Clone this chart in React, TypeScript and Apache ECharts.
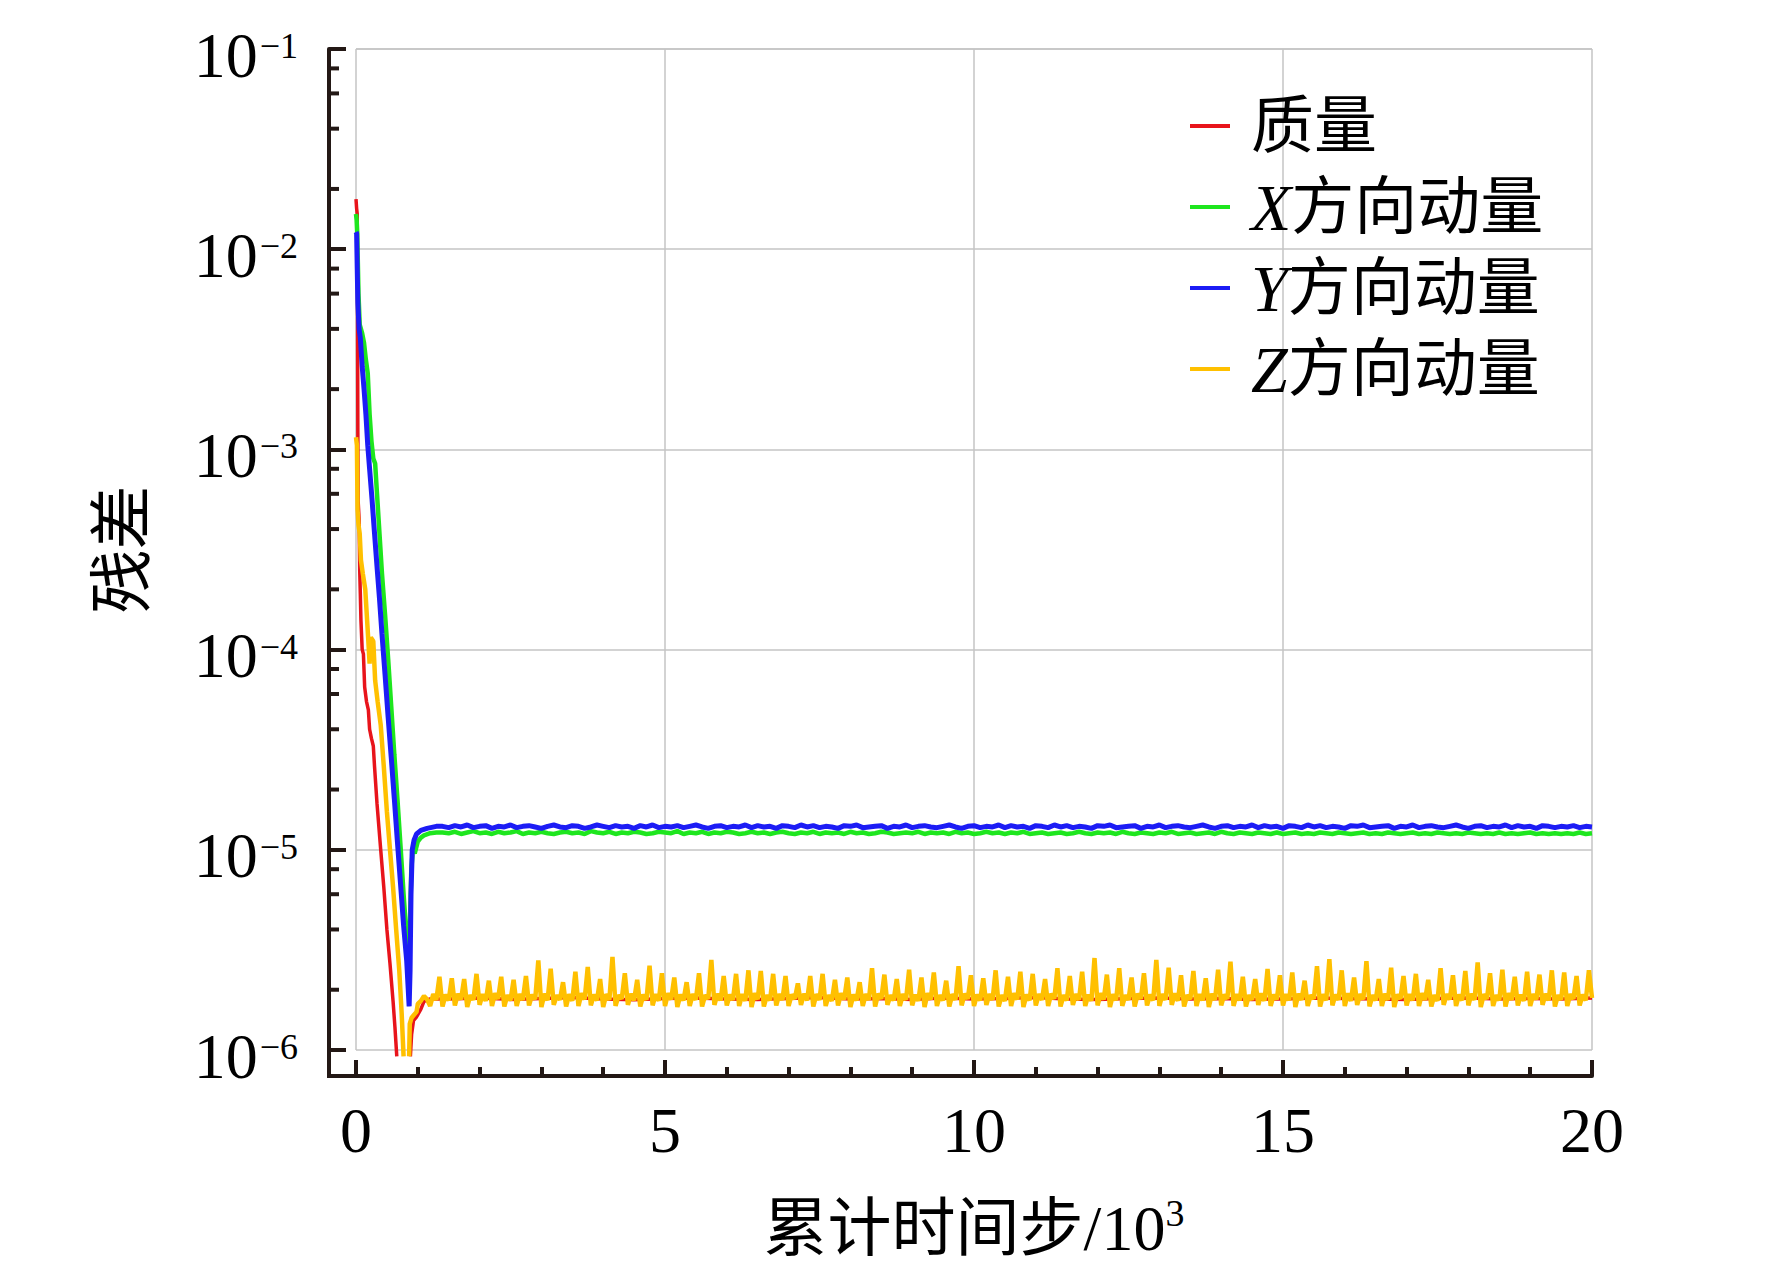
import React, { useEffect, useRef } from "react";
import * as echarts from "echarts";

const W = 1772;
const H = 1273;
const GRID = { left: 356, right: 180, top: 49, bottom: 223 };
const Y_AXIS_OFFSET = 27;
const X_AXIS_OFFSET = 26;
const AXIS_COLOR = "#231815";
const SERIF = "'Liberation Serif', 'Times New Roman', serif";
const CJK = "'Liberation Serif', 'Noto Sans CJK SC', sans-serif";

// ---------------- data ----------------
const seriesNames = ["质量", "X方向动量", "Y方向动量", "Z方向动量"];
const seriesColors = ["#e8141b", "#1ee61e", "#1c1cf5", "#ffc000"];
const seriesWidths = [3.5, 4.5, 5, 4.5];

const xMin = 0;
const xMax = 20;
const xInterval = 5;
const yMin = 1e-6;
const yMax = 1e-1;
const yMinorTicks = [
  2e-6, 4e-6, 6e-6, 8e-6, 2e-5, 4e-5, 6e-5, 8e-5, 2e-4, 4e-4, 6e-4, 8e-4,
  2e-3, 4e-3, 6e-3, 8e-3, 2e-2, 4e-2, 6e-2, 8e-2,
];

// transient parts (x in 10^3 steps, residual)
const massHead: [number, number | null][] = [
  [0, 1.78e-2], [0.01, 1.6e-2], [0.02, 1.5e-2], [0.025, 5e-3], [0.03, 1.2e-3],
  [0.035, 5.5e-4], [0.05, 4.5e-4], [0.06, 2.5e-4], [0.07, 1.9e-4], [0.08, 1.4e-4],
  [0.1, 1.0e-4], [0.12, 9.5e-5], [0.14, 6.5e-5], [0.17, 5.5e-5], [0.2, 5e-5],
  [0.22, 4e-5], [0.25, 3.6e-5], [0.28, 3.3e-5], [0.3, 2.6e-5], [0.34, 1.7e-5],
  [0.4, 1e-5], [0.45, 6.5e-6], [0.5, 4e-6], [0.55, 2.7e-6], [0.6, 1.75e-6],
  [0.63, 1.3e-6], [0.66, 0.93e-6], [0.77, null], [0.88, 0.93e-6], [0.9, 1.2e-6],
  [0.93, 1.4e-6], [0.97, 1.45e-6], [1.0, 1.5e-6], [1.05, 1.6e-6], [1.1, 1.75e-6],
  [1.2, 1.8e-6],
];
// steady part from 1.5 every 0.5 (unit 1e-8)
const massTailStart = 1.5;
const massTailStep = 0.5;
const massTail = [
  180, 182, 179, 181, 183, 180, 178, 181, 182, 180, 179, 181, 183, 180, 181, 179,
  182, 180, 181, 183, 180, 179, 181, 182, 180, 181, 179, 180, 182, 181, 180, 179,
  181, 182, 180, 181, 180, 182,
];

const xMomHead: [number, number | null][] = [
  [0, 1.5e-2], [0.01, 1.4e-2], [0.02, 1.2e-2], [0.04, 6e-3], [0.06, 4.2e-3],
  [0.1, 3.8e-3], [0.13, 3.4e-3], [0.16, 2.8e-3], [0.19, 2.4e-3], [0.22, 1.5e-3],
  [0.25, 1.1e-3], [0.28, 9e-4], [0.31, 8.5e-4], [0.34, 6e-4], [0.38, 3.8e-4],
  [0.42, 2.4e-4], [0.47, 1.5e-4], [0.52, 9e-5], [0.57, 5.2e-5], [0.62, 3e-5],
  [0.67, 1.8e-5], [0.72, 1.05e-5], [0.77, 6e-6], [0.82, 3.6e-6], [0.85, 2.5e-6],
  [0.87, 4e-6], [0.895, 8e-6], [0.92, 1.0e-5], [0.95, 9.6e-6], [1.0, 1.1e-5],
  [1.05, 1.15e-5], [1.1, 1.18e-5], [1.2, 1.21e-5], [1.3, 1.22e-5],
];
const yMomHead: [number, number | null][] = [
  [0, 1.22e-2], [0.01, 1.2e-2], [0.02, 8e-3], [0.03, 5.4e-3], [0.05, 4e-3],
  [0.07, 3.6e-3], [0.1, 2.6e-3], [0.13, 2e-3], [0.16, 1.5e-3], [0.19, 1.05e-3],
  [0.22, 8e-4], [0.26, 5.6e-4], [0.3, 3.8e-4], [0.34, 2.6e-4], [0.38, 1.8e-4],
  [0.42, 1.2e-4], [0.47, 7.5e-5], [0.52, 4.6e-5], [0.57, 2.9e-5], [0.62, 1.8e-5],
  [0.67, 1.1e-5], [0.72, 6.8e-6], [0.77, 4.2e-6], [0.82, 2.8e-6], [0.86, 1.65e-6],
  [0.875, 2.5e-6], [0.89, 6e-6], [0.91, 1.0e-5], [0.94, 1.12e-5], [0.98, 1.2e-5],
  [1.05, 1.25e-5], [1.15, 1.28e-5], [1.3, 1.31e-5],
];
// steady parts from 1.4 every 0.1 (unit 1e-7)
const momTailStart = 1.4;
const momTailStep = 0.1;
const xMomTail = [
  122, 121, 123, 120, 122, 124, 121, 122, 120, 123, 121, 122, 124, 120, 122, 121, 123, 121, 120, 122,
  123, 121, 122, 120, 124, 122, 121, 123, 120, 122, 121, 123, 122, 120, 121, 123, 122, 121, 124, 120,
  122, 121, 123, 120, 122, 121, 123, 122, 120, 121, 123, 121, 122, 120, 122, 123, 121, 120, 122, 121,
  123, 120, 122, 121, 122, 120, 123, 121, 122, 120, 121, 123, 122, 120, 121, 122, 121, 123, 120, 122,
  121, 122, 120, 123, 121, 122, 120, 121, 123, 121, 122, 120, 122, 121, 123, 120, 121, 122, 120, 121,
  122, 120, 121, 123, 121, 120, 122, 121, 122, 120, 123, 121, 120, 122, 121, 120, 122, 121, 123, 120,
  121, 122, 120, 121, 122, 120, 123, 121, 120, 122, 121, 120, 122, 121, 120, 122, 120, 121, 122, 120,
  121, 120, 122, 121, 120, 122, 121, 120, 121, 122, 120, 121, 120, 122, 121, 120, 121, 122, 120, 121,
  120, 122, 121, 120, 121, 120, 122, 121, 120, 121, 120, 122, 120, 121, 120, 121, 122, 120, 121, 120,
  121, 120, 121, 120, 122, 120, 121,
];
const yMomTail = [
  131, 129, 132, 130, 133, 129, 131, 132, 128, 131, 130, 133, 129, 131, 132, 130, 128, 131, 133, 130,
  129, 132, 131, 128, 130, 133, 131, 129, 132, 130, 131, 128, 132, 130, 133, 129, 131, 130, 132, 129,
  131, 133, 130, 128, 131, 132, 129, 131, 130, 133, 129, 132, 130, 131, 128, 132, 131, 129, 133, 130,
  132, 129, 131, 130, 128, 132, 131, 133, 129, 130, 131, 132, 128, 131, 130, 133, 129, 131, 132, 130,
  129, 131, 133, 130, 128, 131, 132, 129, 131, 130, 133, 129, 132, 130, 131, 128, 132, 131, 129, 133,
  130, 132, 129, 131, 130, 128, 132, 131, 133, 129, 130, 131, 132, 128, 131, 130, 133, 129, 131, 132,
  130, 129, 131, 133, 130, 128, 131, 132, 129, 131, 130, 133, 129, 132, 130, 131, 128, 132, 131, 129,
  133, 130, 132, 129, 131, 130, 128, 132, 131, 133, 129, 130, 131, 132, 128, 131, 130, 133, 129, 131,
  132, 130, 129, 131, 133, 130, 128, 131, 132, 129, 131, 130, 133, 129, 132, 130, 131, 128, 132, 131,
  129, 131, 130, 132, 129, 131, 130,
];

const zMomHead: [number, number | null][] = [
  [0, 1.15e-3], [0.015, 1.05e-3], [0.025, 5e-4], [0.04, 4.2e-4], [0.06, 3.8e-4],
  [0.08, 2.8e-4], [0.11, 2.4e-4], [0.15, 2.0e-4], [0.18, 1.4e-4], [0.2, 1.1e-4],
  [0.22, 8.5e-5], [0.24, 1.15e-4], [0.28, 1.1e-4], [0.31, 7e-5], [0.35, 5.5e-5],
  [0.4, 4.2e-5], [0.45, 2.6e-5], [0.5, 1.55e-5], [0.55, 1.0e-5], [0.6, 6.5e-6],
  [0.65, 4e-6], [0.7, 2.5e-6], [0.74, 1.5e-6], [0.77, 0.93e-6], [0.82, null],
  [0.86, 0.93e-6], [0.87, 1.35e-6], [0.9, 1.45e-6], [0.94, 1.5e-6], [0.98, 1.55e-6],
  [1.0, 1.7e-6], [1.05, 1.76e-6], [1.1, 1.86e-6], [1.15, 1.79e-6],
];
// steady part from 1.2 every 0.05 (unit 1e-8): dip, high, low, spike
const zTailStart = 1.2;
const zTailStep = 0.05;
const zMomTail = [
  166, 190, 178, 232, 165, 189, 177, 228, 167, 191, 179, 226, 164, 188, 178, 240, 168, 190, 176, 222,
  166, 192, 180, 232, 165, 188, 177, 224, 166, 190, 178, 234, 167, 189, 179, 280, 164, 191, 177, 255,
  168, 188, 178, 218, 165, 190, 176, 246, 166, 192, 179, 260, 167, 189, 177, 226, 164, 190, 178, 292,
  166, 188, 180, 242, 168, 191, 177, 224, 165, 189, 178, 264, 167, 190, 176, 242, 166, 192, 179, 230,
  164, 189, 177, 218, 166, 190, 178, 242, 165, 188, 180, 282, 168, 191, 177, 234, 167, 189, 178, 240,
  166, 190, 176, 250, 164, 192, 179, 248, 165, 188, 177, 240, 167, 190, 178, 234, 166, 189, 180, 215,
  168, 191, 177, 234, 165, 190, 178, 240, 166, 188, 176, 224, 167, 192, 179, 230, 164, 189, 177, 218,
  166, 190, 178, 256, 165, 191, 180, 238, 168, 188, 177, 226, 166, 190, 178, 252, 167, 189, 176, 230,
  164, 192, 179, 244, 166, 188, 177, 222, 165, 190, 178, 262, 167, 191, 180, 236, 166, 189, 177, 228,
  168, 190, 178, 250, 165, 188, 176, 232, 166, 192, 179, 246, 164, 189, 177, 240, 167, 190, 178, 226,
  166, 191, 180, 256, 165, 188, 177, 234, 168, 190, 178, 246, 166, 189, 176, 288, 167, 192, 179, 238,
  164, 190, 177, 256, 166, 188, 178, 230, 165, 191, 180, 242, 167, 189, 177, 282, 166, 190, 178, 258,
  168, 192, 176, 236, 165, 188, 179, 248, 166, 190, 177, 228, 164, 191, 178, 252, 167, 189, 180, 276,
  166, 190, 177, 232, 165, 188, 178, 226, 168, 192, 176, 254, 166, 189, 179, 236, 167, 190, 177, 244,
  164, 191, 178, 222, 166, 188, 180, 262, 165, 190, 177, 284, 167, 189, 178, 250, 166, 192, 176, 230,
  168, 190, 179, 278, 165, 188, 177, 226, 166, 191, 178, 258, 164, 189, 180, 234, 167, 190, 177, 240,
  166, 192, 178, 224, 165, 188, 176, 256, 168, 190, 179, 236, 166, 189, 177, 248, 167, 191, 178, 274,
  164, 190, 180, 242, 166, 188, 177, 252, 165, 192, 178, 232, 167, 189, 176, 246, 166, 190, 179, 238,
  168, 191, 177, 250, 165, 188, 178, 244, 166, 190, 180, 234, 167, 189, 177, 250,
  182,
];

// -------------- helpers --------------
function tail(start: number, step: number, vals: number[], unit: number): [number, number][] {
  return vals.map((v, i) => [Math.round((start + i * step) * 1000) / 1000, v * unit]);
}

const seriesData: [number, number | null][][] = [
  [...massHead, ...tail(massTailStart, massTailStep, massTail, 1e-8)],
  [...xMomHead, ...tail(momTailStart, momTailStep, xMomTail, 1e-7)],
  [...yMomHead, ...tail(momTailStart, momTailStep, yMomTail, 1e-7)],
  [...zMomHead, ...tail(zTailStart, zTailStep, zMomTail, 1e-8)],
];

function supLabel(v: number) {
  const e = Math.round(Math.log10(v));
  return `{b|10}{s|\u2212${Math.abs(e)}}`;
}

export default function App() {
  const ref = useRef<HTMLDivElement>(null);
  useEffect(() => {
    document.body.style.margin = "0";
    const chart = echarts.init(ref.current!, null, { renderer: "svg", width: W, height: H });
    const lineSeries = seriesNames.map((name, i) => ({
      name,
      type: "line",
      data: seriesData[i],
      showSymbol: false,
      symbol: "none",
      clip: false,
      connectNulls: false,
      lineStyle: { color: seriesColors[i], width: seriesWidths[i] },
      itemStyle: { color: seriesColors[i] },
      z: 2 + i,
    }));
    const option: any = {
      animation: false,
      backgroundColor: "#ffffff",
      grid: {
        left: GRID.left,
        right: GRID.right,
        top: GRID.top,
        bottom: GRID.bottom,
        containLabel: false,
        outerBoundsMode: "none",
      },
      legend: {
        show: true,
        orient: "vertical",
        left: 1190,
        top: 91,
        padding: 0,
        itemGap: 11,
        itemWidth: 40,
        itemHeight: 4,
        icon: "rect",
        data: seriesNames,
        formatter: (name: string) =>
          /^[XYZ]/.test(name) ? `{i|${name[0]}}${name.slice(1)}` : name,
        textStyle: {
          fontFamily: CJK,
          fontSize: 63,
          lineHeight: 70,
          color: "#000",
          padding: [0, 0, 0, 16],
          rich: {
            i: { fontFamily: SERIF, fontStyle: "italic", fontSize: 66, lineHeight: 70, color: "#000" },
          },
        },
      },
      xAxis: {
        type: "value",
        min: xMin,
        max: xMax,
        interval: xInterval,
        offset: X_AXIS_OFFSET,
        name: "累计时间步/10{s|3}",
        nameLocation: "middle",
        nameGap: 118,
        nameTextStyle: {
          fontFamily: CJK,
          fontSize: 64,
          color: "#000",
          rich: {
            s: { fontFamily: SERIF, fontSize: 38, padding: [0, 0, 30, 0], color: "#000" },
          },
        },
        axisLine: { show: true, onZero: false, lineStyle: { color: AXIS_COLOR, width: 4 } },
        axisTick: { show: true, inside: true, length: 16, lineStyle: { color: AXIS_COLOR, width: 4 } },
        minorTick: { show: true, splitNumber: 5, length: 9, lineStyle: { color: AXIS_COLOR, width: 4 } },
        axisLabel: { show: true, margin: 22, fontFamily: SERIF, fontSize: 64, color: "#000" },
        splitLine: { show: true, lineStyle: { color: "#c4c4c4", width: 1.5 } },
        minorSplitLine: { show: false },
      },
      yAxis: {
        type: "log",
        logBase: 10,
        min: yMin,
        max: yMax,
        splitNumber: 5,
        offset: Y_AXIS_OFFSET,
        name: "残差",
        nameLocation: "middle",
        nameGap: 175,
        nameTextStyle: { fontFamily: CJK, fontSize: 64, color: "#000" },
        axisLine: { show: true, onZero: false, lineStyle: { color: AXIS_COLOR, width: 4 } },
        axisTick: { show: true, inside: true, length: 17, lineStyle: { color: AXIS_COLOR, width: 4 } },
        minorTick: { show: false },
        axisLabel: {
          show: true,
          margin: 31,
          formatter: supLabel,
          rich: {
            b: { fontFamily: SERIF, fontSize: 64, color: "#000", padding: [12, 0, 0, 0] },
            s: { fontFamily: SERIF, fontSize: 36, color: "#000", padding: [0, 0, 6, 2] },
          },
        },
        splitLine: { show: true, lineStyle: { color: "#c4c4c4", width: 1.5 } },
      },
      series: [
        ...lineSeries,
        {
          name: "yMinorTicks",
          type: "custom",
          silent: true,
          clip: false,
          z: 10,
          data: yMinorTicks.map((v) => [xMin, v]),
          encode: { x: 0, y: 1 },
          renderItem: (_p: any, api: any) => {
            const pt = api.coord([api.value(0), api.value(1)]);
            const x0 = pt[0] - Y_AXIS_OFFSET;
            return {
              type: "line",
              shape: { x1: x0, y1: pt[1], x2: x0 + 10, y2: pt[1] },
              style: { stroke: AXIS_COLOR, lineWidth: 4 },
            };
          },
        },
        {
          name: "axisCorner",
          type: "custom",
          silent: true,
          clip: false,
          z: 10,
          data: [[xMin, yMin]],
          encode: { x: 0, y: 1 },
          renderItem: (_p: any, api: any) => {
            const pt = api.coord([api.value(0), api.value(1)]);
            const cx = pt[0] - Y_AXIS_OFFSET;
            const cy = pt[1] + X_AXIS_OFFSET;
            return {
              type: "polyline",
              shape: { points: [[cx, pt[1] - 2], [cx, cy], [pt[0] + 2, cy]] },
              style: { stroke: AXIS_COLOR, lineWidth: 4, fill: "none", lineJoin: "miter" },
            };
          },
        },
      ],
    };
    chart.setOption(option);
    return () => chart.dispose();
  }, []);
  return <div ref={ref} style={{ width: W, height: H }} />;
}
